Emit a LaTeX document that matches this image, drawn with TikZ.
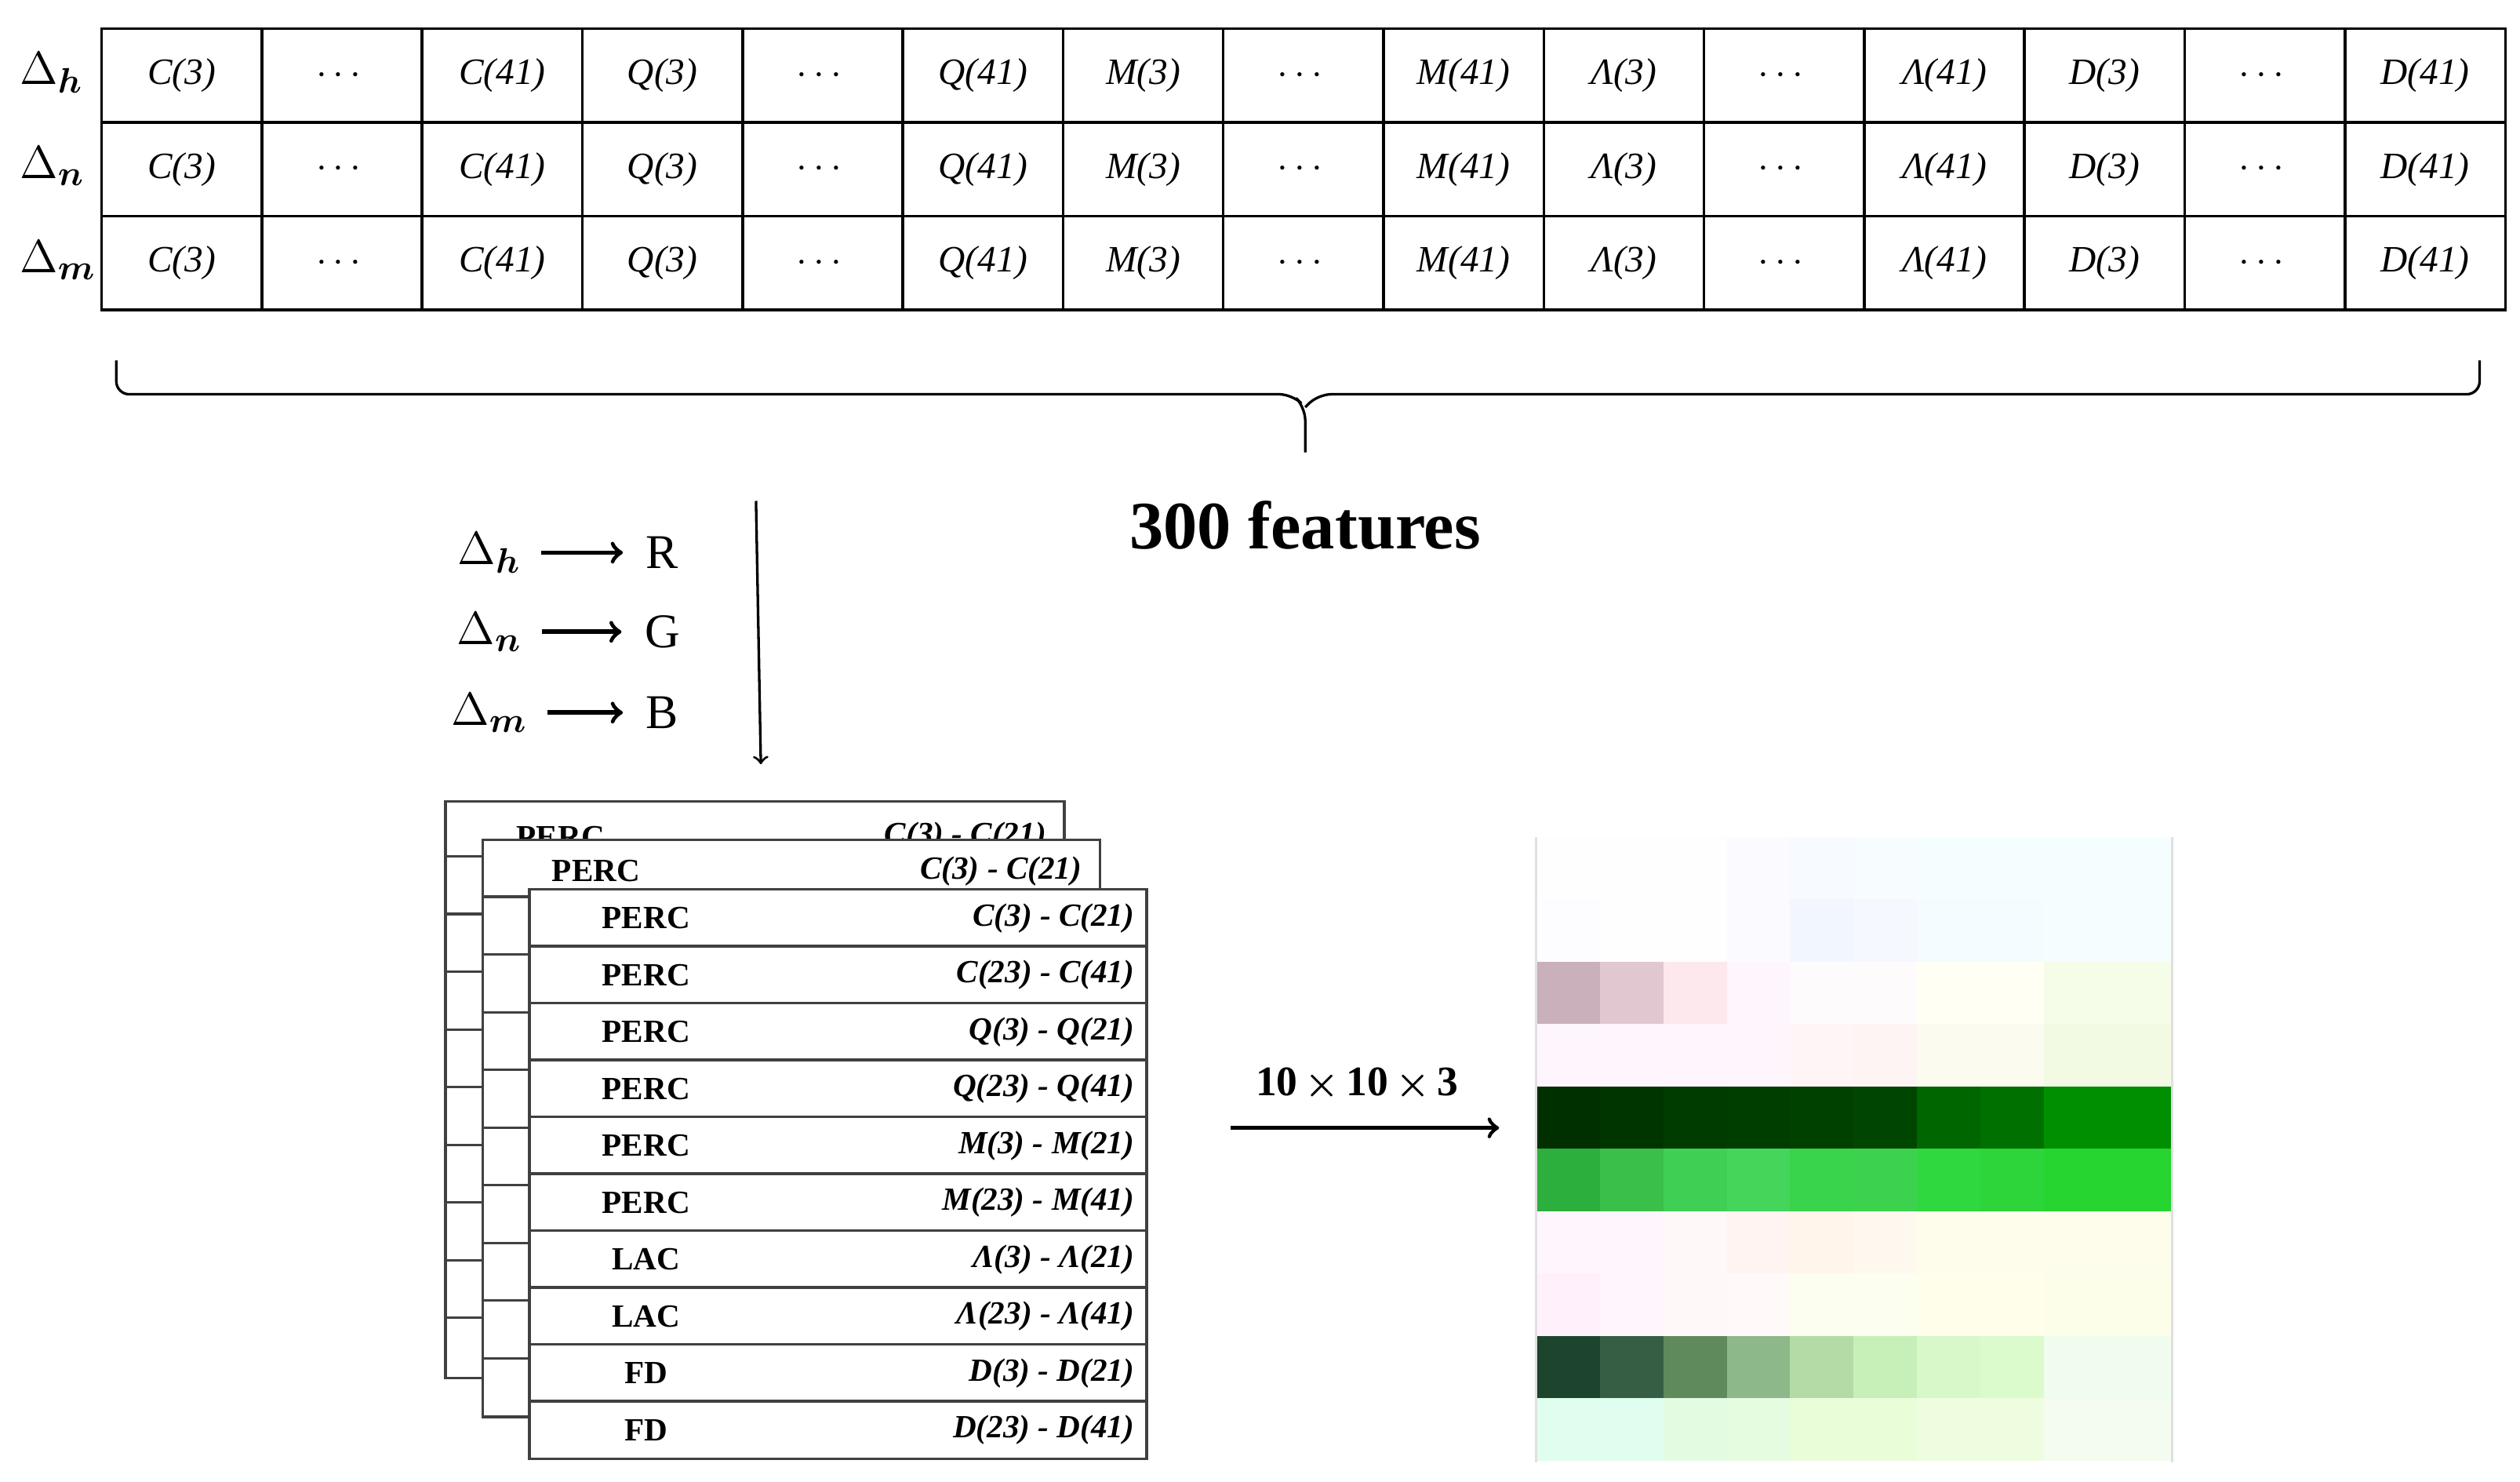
\documentclass[tikz,border=0pt]{standalone}
\usepackage{fontspec}
\setmainfont{Liberation Serif}
\usepackage{amsmath}
\usepackage{bm}
\usetikzlibrary{arrows, positioning, calc, decorations.pathreplacing}
\tikzstyle{arrow} = [thick,->,>=to]
\tikzstyle{maparrow} = [line width=1.4pt,->,>=to, shorten <=5pt, shorten >=6pt]
\tikzstyle{cell} = [rectangle, draw=black, thick, inner sep=0pt, minimum width=49.67pt, minimum height=29pt, anchor=north west, font=\fontsize{11.5}{12}\selectfont\itshape]
\tikzstyle{row} = [rectangle, draw=black!75, thick, fill=white, inner sep=0pt, minimum width=191pt, minimum height=17.85pt, anchor=north west]
\tikzstyle{sheet} = [rectangle, draw=black!75, thick, fill=white, inner sep=0pt, anchor=north west]
\tikzstyle{lab} = [font=\fontsize{10}{12}\selectfont\bfseries, inner sep=0pt]
\tikzstyle{rng} = [font=\fontsize{10}{12}\selectfont\bfseries\itshape, inner sep=0pt, anchor=east]
\tikzstyle{big} = [font=\fontsize{15}{18}\selectfont, inner sep=1pt]
\begin{document}
\begin{tikzpicture}[x=0.5pt, y=-0.5pt]
\useasboundingbox (0,0) rectangle (1560,917);

% feature table
\foreach \g [count=\k from 0] in {C,Q,M,Λ,D} {
  \foreach \r in {0,1,2} {
    \node (t\r-\k a) [cell] at ({62+(3*\k)*99.2}, {17+\r*58}) {\g(3)};
    \node (t\r-\k b) [cell] at ({62+(3*\k+1)*99.2}, {17+\r*58}) {$\cdots$};
    \node (t\r-\k c) [cell] at ({62+(3*\k+2)*99.2}, {17+\r*58}) {\g(41)};
  }
}
\node (dh) [big, anchor=west] at (10,45) {$\Delta_{\bm h}$};
\node (dn) [big, anchor=west] at (10,103) {$\Delta_{\bm n}$};
\node (dm) [big, anchor=west] at (10,161) {$\Delta_{\bm m}$};

% brace
\draw [thick, rounded corners=4pt] (72,223) -- (72,244) -- (800,244) -- (808,252) -- (808,280);
\draw [thick, rounded corners=4pt] (1535,223) -- (1535,244) -- (816,244) -- (808,252);
\node (feat) [font=\fontsize{21}{24}\selectfont\bfseries] at (808,325) {300 features};

% channel mapping
\node (mh) [big] at (303,342) {$\Delta_{\bm h}$};
\node (mn) [big] at (303,391) {$\Delta_{\bm n}$};
\node (mm) [big] at (303,441) {$\Delta_{\bm m}$};
\node (cR) [big] at (410,342) {R};
\node (cG) [big] at (410,391) {G};
\node (cB) [big] at (410,441) {B};
\draw [maparrow] (mh) -- (cR);
\draw [maparrow] (mn) -- (cG);
\draw [maparrow] (mm) -- (cB);
\coordinate (vtop) at (468,310);
\coordinate (vbot) at (471,473);
\draw [arrow] (vtop) -- (vbot);

% stacked sheets
\node (backTab) [sheet, minimum width=191.5pt, minimum height=178.5pt] at (275,495) {};
\node [lab] at (347,518) {PERC};
\node [rng] at (648,518) {C(3) - C(21)};
\foreach \k in {0,...,8} \draw [black!75, thick] (275,{530+\k*35.7}) -- (298,{530+\k*35.7});
\node (midTab) [sheet, minimum width=191pt, minimum height=178.5pt] at (298,519) {};
\node [lab] at (369,539) {PERC};
\node [rng] at (670,539) {C(3) - C(21)};
\foreach \k in {0,...,8} \draw [black!75, thick] (298,{555+\k*35.7}) -- (327,{555+\k*35.7});
\foreach \a/\b [count=\i from 0] in {PERC/C(3) - C(21), PERC/C(23) - C(41), PERC/Q(3) - Q(21), PERC/Q(23) - Q(41), PERC/M(3) - M(21), PERC/M(23) - M(41), LAC/Λ(3) - Λ(21), LAC/Λ(23) - Λ(41), FD/D(3) - D(21), FD/D(23) - D(41)} {
  \node (f\i) [row] at (327,{549.5+\i*35.2}) {};
  \node [lab] at ($(f\i.west)+(73,0)$) {\a};
  \node [rng] at ($(f\i.east)+(-8,0)$) {\b};
}

% pixel image
\foreach \rowcols [count=\r from 0] in {
 {FEFEFE,FEFEFE,FEFEFE,FAFAFF,F7FAFF,F7FCFF,F5FEFF,F5FEFF,F5FEFF,F5FEFF},
 {FDFCFF,FEFEFE,FEFEFE,FBFBFF,F2F6FF,F5F8FF,F3FDFF,F3FDFF,F5FEFF,F5FEFF},
 {C9B0BA,E0C7D0,FDE8EE,FFF5FC,FEFBFD,FEFBFD,FFFFF3,FFFFF3,F5FDE8,F5FDE8},
 {FFF5FC,FFF5FC,FFF5FC,FFF5FC,FFF5F7,FFF4F4,FBFBF0,FBFBF0,F2FAE4,F2FAE4},
 {003000,003500,003C00,003E00,004100,004600,006600,007000,008F00,008F00},
 {2CAF3C,3ABF4A,40CF55,45D55A,3AD44C,3DD24E,2FD83E,2DD43A,26D52F,26D52F},
 {FEF5FD,FEF5FD,FFF8F8,FFF4F2,FFF5EA,FFF8EE,FEFDEB,FEFDEB,FEFDEB,FEFDEB},
 {FFF0FB,FFF5FD,FFF8F8,FFF9F9,FCFEF0,FCFEF0,FEFEEA,FEFEEA,FDFEEA,FDFEEA},
 {1D442D,355E45,5F8A5C,8DB88A,B4DBA5,C7F0B8,D8F8CA,DBFBCC,F0FCEE,F0FCEE},
 {DFFEEF,E0FEEF,E3FCE1,E5FCE1,EAFDD9,EAFDD9,EEFDDF,EEFDDF,F3FCEE,F3FCEE}} {
  \foreach \hex [count=\c from 0] in \rowcols {
    \definecolor{px}{HTML}{\hex}
    \fill [px] ({951+\c*39.3}, {518+\r*38.6}) rectangle ++(39.3,38.6);
  }
}
\node (img) [rectangle, inner sep=0pt, minimum width=196.5pt, minimum height=193pt, anchor=north west] at (951,518) {};
\draw [black!12, thick] (img.north west) -- (img.south west);
\draw [black!12, thick] (img.north east) -- (img.south east);

\coordinate (hL) at (762,698);
\coordinate (hR) at (928,698);
\draw [arrow, line width=1.3pt] (hL) -- (hR);
\node (dims) [font=\fontsize{13}{15}\selectfont\bfseries] at (840,671) {10\,$\bm\times$\,10\,$\bm\times$\,3};
\end{tikzpicture}
\end{document}
